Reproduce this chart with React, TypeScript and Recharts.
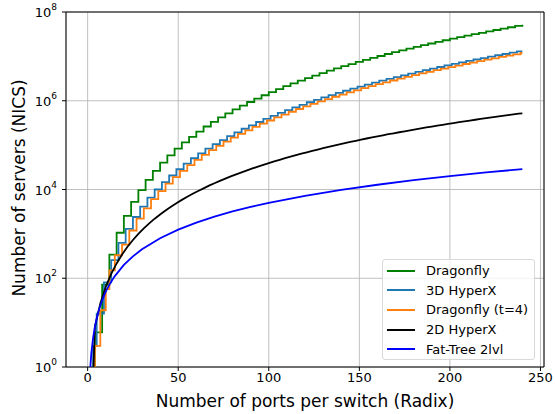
import React from 'react';
import { LineChart, Line, XAxis, YAxis, CartesianGrid, ReferenceArea } from 'recharts';

// radix (ports per switch) where each topology steps up, and the servers reached there
const dragonflyRadix = [
  3, 4, 8, 12, 16, 20, 24, 28, 32, 36, 40, 44, 48, 52, 56, 60, 64, 68, 72, 76, 80,
  84, 88, 92, 96, 100, 104, 108, 112, 116, 120, 124, 128, 132, 136, 140, 144, 148, 152, 156, 160,
  164, 168, 172, 176, 180, 184, 188, 192, 196, 200, 204, 208, 212, 216, 220, 224, 228, 232, 236, 240,
];
const dragonflyServers = [
  0.5, 6, 72, 342, 1060, 2550, 5260, 9700, 16500, 26400, 40200, 58800, 83200, 115000, 154000, 201000,
  263000, 335000, 421000, 522000, 641000, 779000, 938000, 1120000, 1330000, 1560000, 1830000,
  2130000, 2460000, 2830000, 3240000, 3700000, 4200000, 4750000, 5350000, 6000000, 6720000,
  7500000, 8340000, 9260000, 10200000, 11300000, 12500000, 13700000, 15000000, 16400000,
  17900000, 19500000, 21200000, 23100000, 25000000, 27100000, 29300000, 31600000, 34000000,
  36600000, 39300000, 42200000, 45300000, 48500000, 51800000,
];

const hyperx3dRadix = [
  2, 3, 5, 9, 13, 17, 21, 25, 29, 33, 37, 41, 45, 49, 53, 57, 61, 65, 69, 73, 77, 81, 85, 89, 93, 97,
  101, 105, 109, 113, 117, 121, 125, 129, 133, 137, 141, 145, 149, 153, 157, 161, 165, 169, 173,
  177, 181, 185, 189, 193, 197, 201, 205, 209, 213, 217, 221, 225, 229, 233, 237, 240,
];
const hyperx3dServers = [
  0.5, 3, 16, 81, 256, 625, 1300, 2400, 4100, 6560, 10000, 14600, 20700, 28600, 38400, 50600, 65500,
  83500, 105000, 130000, 160000, 194000, 234000, 280000, 332000, 391000, 457000, 531000, 615000,
  707000, 810000, 924000, 1050000, 1190000, 1340000, 1500000, 1680000, 1870000, 2090000, 2310000,
  2560000, 2830000, 3110000, 3420000, 3750000, 4100000, 4480000, 4880000, 5310000, 5760000,
  6250000, 6770000, 7310000, 7890000, 8500000, 9150000, 9830000, 10600000, 11300000, 12100000,
  13000000, 13000000,
];

const dragonflyT4Radix = [
  3, 4, 7, 10, 12, 15, 19, 23, 27, 31, 35, 39, 43, 47, 51, 55, 59, 63, 67, 71, 75, 79, 83, 87, 91, 95,
  99, 103, 107, 111, 115, 119, 123, 127, 131, 135, 139, 143, 147, 151, 155, 159, 163, 167, 171,
  175, 179, 183, 187, 191, 195, 199, 203, 207, 211, 215, 219, 223, 227, 231, 235, 239, 240,
];
const dragonflyT4Servers = [
  0.5, 3, 19, 57, 150, 330, 575, 1190, 2210, 3770, 6040, 9200, 13500, 19100, 26300, 35300, 46600,
  60300, 76800, 96600, 120000, 147000, 179000, 216000, 257000, 305000, 359000, 420000, 489000,
  565000, 651000, 745000, 850000, 965000, 1090000, 1230000, 1380000, 1550000, 1720000, 1920000,
  2130000, 2360000, 2600000, 2860000, 3150000, 3450000, 3770000, 4120000, 4490000, 4880000,
  5300000, 5750000, 6220000, 6730000, 7260000, 7820000, 8420000, 9050000, 9710000, 10400000,
  11100000, 11900000, 11900000,
];

const hyperx2dRadix = [
  3, 4, 7, 10, 13, 16, 19, 22, 25, 28, 31, 34, 37, 40, 43, 46, 49, 52, 55, 58, 61, 64, 67, 70, 73, 76,
  79, 82, 85, 88, 91, 94, 97, 100, 103, 106, 109, 112, 115, 118, 121, 124, 127, 130, 133, 136, 139,
  142, 145, 148, 151, 154, 157, 160, 163, 166, 169, 172, 175, 178, 181, 184, 187, 190, 193, 196,
  199, 202, 205, 208, 211, 214, 217, 220, 223, 226, 229, 232, 235, 238, 240,
];
const hyperx2dServers = [
  0.5, 8, 27, 64, 125, 216, 343, 512, 729, 1000, 1330, 1730, 2200, 2740, 3380, 4100, 4910, 5830, 6860,
  8000, 9260, 10600, 12200, 13800, 15600, 17600, 19700, 22000, 24400, 27000, 29800, 32800, 35900,
  39300, 42900, 46700, 50700, 54900, 59300, 64000, 68900, 74100, 79500, 85200, 91100, 97300,
  104000, 111000, 118000, 125000, 133000, 141000, 149000, 157000, 166000, 176000, 185000, 195000,
  205000, 216000, 227000, 238000, 250000, 262000, 275000, 287000, 301000, 314000, 329000, 343000,
  358000, 373000, 389000, 405000, 422000, 439000, 457000, 475000, 493000, 512000, 520000,
];

const fatTreeRadix = [
  1, 2, 3, 4, 5, 6, 8, 10, 12, 15, 20, 25, 30, 40, 50, 60, 70, 80, 90, 100, 120, 140, 160, 180, 200,
  220, 240,
];
const fatTreeServers = [
  0.5, 2, 4.5, 8, 12.5, 18, 32, 50, 72, 112, 200, 312, 450, 800, 1250, 1800, 2450, 3200, 4050, 5000,
  7200, 9800, 12800, 16200, 20000, 24200, 28800,
];

const xTicks = [0, 50, 100, 150, 200, 250];
const yTicks = [1, 1e2, 1e4, 1e6, 1e8];

const toPoints = (xs: number[], ys: number[]) => xs.map((x, i) => ({ x, y: ys[i] }));

const series = [
  { name: 'Dragonfly', color: '#008000', type: 'stepAfter', data: toPoints(dragonflyRadix, dragonflyServers) },
  { name: '3D HyperX', color: '#1f77b4', type: 'stepAfter', data: toPoints(hyperx3dRadix, hyperx3dServers) },
  { name: 'Dragonfly (t=4)', color: '#ff7f0e', type: 'stepAfter', data: toPoints(dragonflyT4Radix, dragonflyT4Servers) },
  { name: '2D HyperX', color: '#000000', type: 'linear', data: toPoints(hyperx2dRadix, hyperx2dServers) },
  { name: 'Fat-Tree 2lvl', color: '#0000ff', type: 'linear', data: toPoints(fatTreeRadix, fatTreeServers) },
];

const FONT = '"DejaVu Sans", Verdana, sans-serif';

const PowerTick = (props: any) => {
  const { x, y, payload } = props;
  const exp = Math.round(Math.log10(payload.value));
  return (
    <text x={x - 3} y={y + 5} textAnchor="end" fontFamily={FONT} fontSize={13} fill="#000">
      10
      <tspan dy={-7} fontSize={9}>{exp}</tspan>
    </text>
  );
};

export default function App() {
  return (
    <div style={{ position: 'absolute', left: 0, top: 0, width: 555, height: 414, background: '#fff', fontFamily: FONT }}>
      <LineChart width={555} height={414} margin={{ top: 12, right: 11, bottom: 0, left: 0 }}>
        <CartesianGrid stroke="#b0b0b0" strokeWidth={0.8} />
        <XAxis
          type="number"
          dataKey="x"
          domain={[-11.95, 251.95]}
          ticks={xTicks}
          allowDataOverflow
          height={47}
          axisLine={false}
          tickSize={4}
          tickLine={{ stroke: '#000' }}
          tick={{ fontSize: 13, fill: '#000', fontFamily: FONT }}
          label={{
            content: () => (
              <text x={305} y={401} textAnchor="middle" dominantBaseline="central" fontSize={17} fill="#000" fontFamily={FONT}>
                Number of ports per switch (Radix)
              </text>
            ),
          }}
        />
        <YAxis
          type="number"
          scale="log"
          domain={[1, 1e8]}
          ticks={yTicks}
          allowDataOverflow
          width={66}
          axisLine={false}
          tickSize={4}
          tickLine={{ stroke: '#000' }}
          tick={<PowerTick />}
          label={{
            content: () => (
              <text x={19} y={188} transform="rotate(-90, 19, 188)" textAnchor="middle" dominantBaseline="central" fontSize={17} fill="#000" fontFamily={FONT}>
                Number of servers (NICS)
              </text>
            ),
          }}
        />
        {series.map((s) => (
          <Line
            key={s.name}
            data={s.data}
            dataKey="y"
            name={s.name}
            type={s.type as any}
            stroke={s.color}
            strokeWidth={1.8}
            dot={false}
            activeDot={false}
            isAnimationActive={false}
          />
        ))}
        <ReferenceArea x1={-11.95} x2={251.95} y1={1} y2={1e8} fill="none" stroke="#000" strokeWidth={1} ifOverflow="visible" />
      </LineChart>
      <div
        style={{
          position: 'absolute',
          left: 382,
          top: 259,
          width: 153,
          height: 101,
          boxSizing: 'border-box',
          border: '1px solid #d9d9d9',
          borderRadius: 3,
          background: 'rgba(255,255,255,0.8)',
          padding: '1px 0 0 4px',
        }}
      >
        {series.map((s) => (
          <div key={s.name} style={{ display: 'flex', alignItems: 'center', height: 19.6, fontSize: 13, color: '#000', whiteSpace: 'nowrap' }}>
            <span style={{ display: 'inline-block', width: 28, height: 2, background: s.color, marginRight: 11 }} />
            <span>{s.name}</span>
          </div>
        ))}
      </div>
    </div>
  );
}
